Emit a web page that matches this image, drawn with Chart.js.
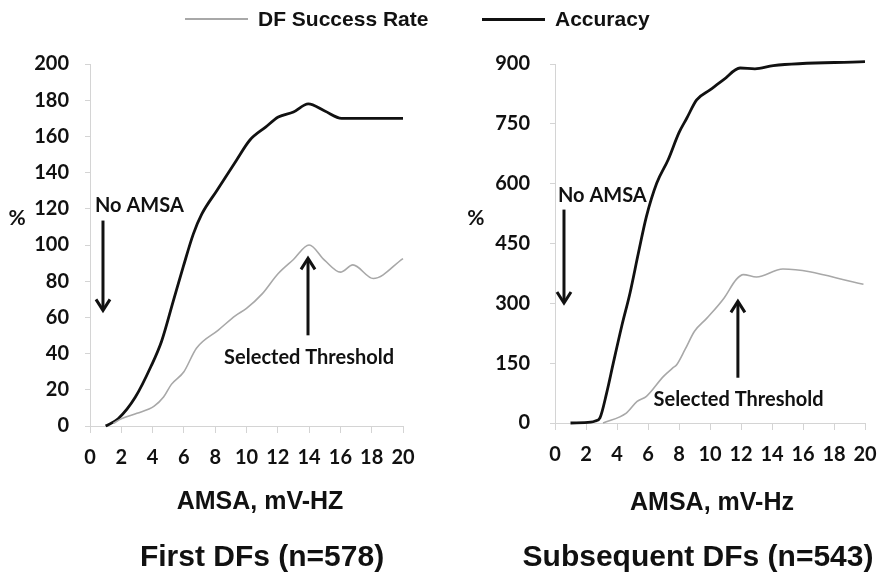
<!DOCTYPE html>
<html>
<head>
<meta charset="utf-8">
<script src="https://cdn.jsdelivr.net/npm/chart.js@4.4.1/dist/chart.umd.min.js"></script>
<style>
body{margin:0;background:#fff;width:881px;height:575px;overflow:hidden;position:relative;font-family:"Liberation Sans",Arial,sans-serif}
canvas{position:absolute;top:0}
.sw{position:absolute;top:18px;width:63px}
.lt{position:absolute;top:7px;line-height:24px;font-weight:bold;font-size:21px;color:#111;white-space:nowrap}
</style>
</head>
<body>
<canvas id="c1" width="440" height="575" style="left:0"></canvas>
<canvas id="c2" width="441" height="575" style="left:440px"></canvas>
<div id="legend"></div>
<script>
const seriesNames = ['DF Success Rate', 'Accuracy'];
const seriesColors = ['#a8a8a8', '#111111'];

// First DFs (n=578)
const firstAccX = [1, 1.8, 2.9, 3.9, 4.58, 5.32, 5.96, 6.6, 7.14, 8.1, 9.37, 10.22, 11.2, 12.03, 13, 13.95, 15, 16.08, 17, 20];
const firstAccY = [0, 4, 16, 33, 47, 69, 88, 106, 117, 130, 147, 158, 165, 170.7, 173.5, 178, 174, 170, 170, 170];
const firstDfX = [1.5, 2, 3, 4.1, 4.7, 5.2, 6, 6.8, 8.2, 9.3, 10, 11, 12, 13, 14, 15, 16, 16.8, 18.1, 20];
const firstDfY = [1.5, 4, 7, 11, 16, 23, 30, 43, 53, 61, 65, 73, 84, 92, 100, 91.5, 85, 89, 81.5, 92.5];

// Subsequent DFs (n=543)
const subsAccX = [1, 2.3, 2.6, 2.9, 3.33, 3.76, 4.3, 4.84, 5.38, 5.9, 6.56, 7.3, 8.0, 8.5, 9.14, 10.0, 10.86, 11.94, 12.9, 14.08, 20];
const subsAccY = [0, 2, 5, 13, 75, 150, 242, 326, 426, 518, 601, 660, 728, 764, 810, 835, 860, 890, 888, 896, 906];
const subsDfX = [3.1, 4.6, 5.3, 5.9, 7.0, 7.6, 7.85, 8.4, 9.0, 9.8, 10.9, 11.7, 12.15, 13.0, 14.7, 19.9];
const subsDfY = [0, 25, 54, 67, 117, 138, 146, 185, 230, 263, 313, 360, 372, 366, 386, 348];

const tickFont = {family: 'Lato', weight: 'bold', size: 20};
const axisGray = '#d4d4d4';

// legend shared by both panels
const legendPos = [[185, 258, 2], [482, 555, 3]];
const legend = document.getElementById('legend');
seriesNames.forEach((name, i) => {
  const sw = document.createElement('div');
  sw.className = 'sw';
  sw.style.left = legendPos[i][0] + 'px';
  sw.style.height = legendPos[i][2] + 'px';
  sw.style.background = seriesColors[i];
  legend.appendChild(sw);
  const lt = document.createElement('div');
  lt.className = 'lt';
  lt.style.left = legendPos[i][1] + 'px';
  lt.textContent = name;
  legend.appendChild(lt);
});

function zip(xs, ys) { return xs.map((x, i) => ({x: x, y: ys[i]})); }

// annotations: texts/arrows in data units, captions in canvas pixels
const notesPlugin = {
  id: 'notes',
  afterDraw(chart, args, opts) {
    const ctx = chart.ctx, xs = chart.scales.x, ys = chart.scales.y;
    ctx.save();
    ctx.fillStyle = '#111';
    ctx.strokeStyle = '#111';
    ctx.textBaseline = 'middle';
    (opts.texts || []).forEach(t => {
      ctx.font = t.font;
      ctx.textAlign = t.align;
      ctx.fillText(t.text, xs.getPixelForValue(t.x), ys.getPixelForValue(t.y));
    });
    (opts.captions || []).forEach(t => {
      ctx.font = t.font;
      ctx.textAlign = 'center';
      ctx.fillText(t.text, t.px, t.py);
    });
    (opts.arrows || []).forEach(a => {
      const x = xs.getPixelForValue(a.x);
      const y0 = ys.getPixelForValue(a.from), y1 = ys.getPixelForValue(a.to);
      const dir = y1 > y0 ? 1 : -1;
      ctx.lineWidth = 3;
      ctx.beginPath(); ctx.moveTo(x, y0); ctx.lineTo(x, y1 - dir * 2); ctx.stroke();
      ctx.beginPath();
      ctx.moveTo(x - 7, y1 - dir * 11); ctx.lineTo(x, y1); ctx.lineTo(x + 7, y1 - dir * 11);
      ctx.stroke();
    });
    ctx.restore();
  }
};

function makeChart(id, c) {
  return new Chart(document.getElementById(id), {
    type: 'line',
    data: {
      datasets: [
        {label: seriesNames[0], data: zip(c.dfX, c.dfY), borderColor: seriesColors[0], borderWidth: 1.6, clip: 8},
        {label: seriesNames[1], data: zip(c.accX, c.accY), borderColor: seriesColors[1], borderWidth: 2.8, clip: 8}
      ]
    },
    options: {
      responsive: false,
      animation: false,
      cubicInterpolationMode: 'monotone',
      elements: {point: {radius: 0}},
      layout: {padding: {top: 64, right: c.padRight, left: 0, bottom: 0}},
      scales: {
        x: {
          type: 'linear', min: 0, max: 20,
          afterFit: s => { s.height = c.xHeight; s.paddingLeft = 0; s.paddingRight = 0; },
          border: {color: axisGray},
          grid: {drawOnChartArea: false, tickLength: 7, tickColor: axisGray},
          ticks: {stepSize: 2, padding: 13, color: '#111', font: tickFont, maxRotation: 0}
        },
        y: {
          min: 0, max: c.yMax,
          afterFit: s => { s.width = c.yWidth; s.paddingTop = 0; s.paddingBottom = 0; },
          border: {color: axisGray},
          grid: {drawOnChartArea: false, tickLength: 5, tickColor: axisGray},
          ticks: {stepSize: c.yStep, padding: c.yPad, color: '#111', font: tickFont}
        }
      },
      plugins: {
        legend: {display: false},
        tooltip: {enabled: false},
        notes: c.notes
      }
    },
    plugins: [notesPlugin]
  });
}

const noteFont = 'bold 20px Lato';
const pctFont = 'bold 21px Lato';
const xTitleFont = 'bold 25px "Liberation Sans"';
const titleFont = 'bold 30px "Liberation Sans"';

makeChart('c1', {
  accX: firstAccX, accY: firstAccY, dfX: firstDfX, dfY: firstDfY,
  yMax: 200, yStep: 20, yWidth: 90, yPad: 16, padRight: 37, xHeight: 149,
  notes: {
    texts: [
      {text: '%', x: -4.66, y: 114.8, align: 'center', font: pctFont},
      {text: 'No AMSA', x: 0.32, y: 121.8, align: 'left', font: noteFont},
      {text: 'Selected Threshold', x: 14.0, y: 38, align: 'center', font: noteFont}
    ],
    captions: [
      {text: 'AMSA, mV-HZ', px: 260, py: 502, font: xTitleFont},
      {text: 'First DFs (n=578)', px: 262, py: 558, font: titleFont}
    ],
    arrows: [
      {x: 0.83, from: 113.5, to: 63.9},
      {x: 13.93, from: 50.1, to: 92.6}
    ]
  }
});

makeChart('c2', {
  accX: subsAccX, accY: subsAccY, dfX: subsDfX, dfY: subsDfY,
  yMax: 900, yStep: 150, yWidth: 115, yPad: 20, padRight: 16, xHeight: 152,
  notes: {
    texts: [
      {text: '%', x: -5.1, y: 514.5, align: 'center', font: pctFont},
      {text: 'No AMSA', x: 0.19, y: 569.7, align: 'left', font: noteFont},
      {text: 'Selected Threshold', x: 11.84, y: 58.4, align: 'center', font: noteFont}
    ],
    captions: [
      {text: 'AMSA, mV-Hz', px: 272, py: 503, font: xTitleFont},
      {text: 'Subsequent DFs (n=543)', px: 258, py: 558, font: titleFont}
    ],
    arrows: [
      {x: 0.58, from: 535, to: 301},
      {x: 11.8, from: 113.5, to: 304.8}
    ]
  }
});
</script>
</body>
</html>
